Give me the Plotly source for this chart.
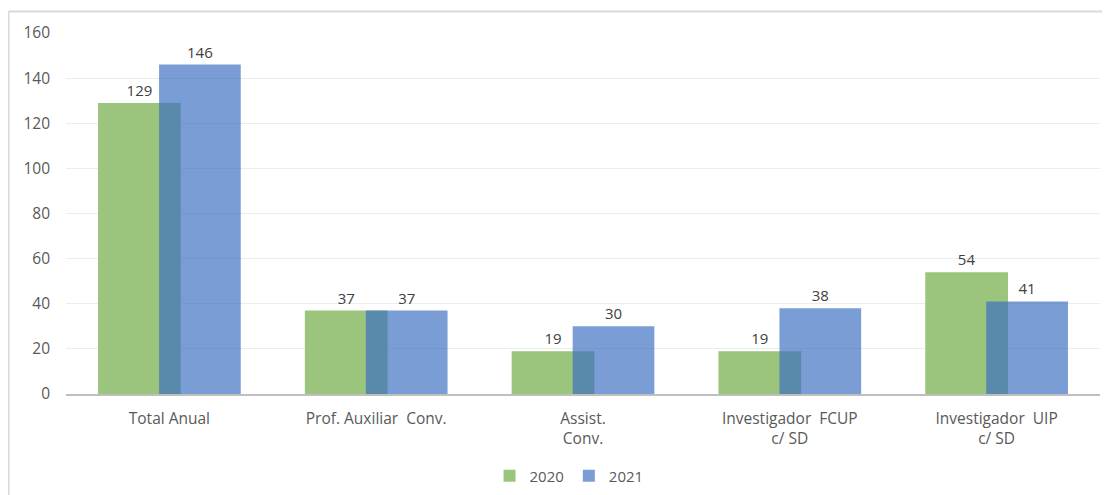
import plotly.graph_objects as go

categories = ["Total Anual", "Prof. Auxiliar  Conv.", "Assist.<br>Conv.",
              "Investigador  FCUP<br>c/ SD", "Investigador  UIP<br>c/ SD"]
values_2020 = [129, 37, 19, 19, 54]
values_2021 = [146, 37, 30, 38, 41]
y_ticks = [0, 20, 40, 60, 80, 100, 120, 140, 160]

FONT = "Open Sans"
fig = go.Figure()
fig.add_trace(go.Bar(
    x=categories, y=values_2020, name="2020",
    marker=dict(color="rgb(155,196,125)", line=dict(width=0)),
    width=0.4, offset=-0.345,
    text=values_2020, textposition="outside",
    textfont=dict(family=FONT, size=15, color="#404040"),
    cliponaxis=False,
))
fig.add_trace(go.Bar(
    x=categories, y=values_2021, name="2021",
    marker=dict(color="rgba(58,109,194,0.67)", line=dict(width=0)),
    width=0.395, offset=-0.05,
    text=values_2021, textposition="outside",
    textfont=dict(family=FONT, size=15, color="#404040"),
    cliponaxis=False,
))

fig.update_layout(
    barmode="overlay",
    width=1102, height=487,
    margin=dict(l=58, r=10, t=25, b=101, autoexpand=False),
    paper_bgcolor="white", plot_bgcolor="white",
    font=dict(family=FONT, size=14, color="#595959"),
    showlegend=True,
    legend=dict(orientation="h", x=0.4865, xanchor="center", yref="container", y=0.005, yanchor="bottom",
                font=dict(family=FONT, size=15, color="#595959"),
                itemwidth=30, traceorder="normal"),
    xaxis=dict(showgrid=False, showline=True, linecolor="#bfbfbf", linewidth=2, automargin=False,
               ticks="", tickfont=dict(family=FONT, size=15.5, color="#595959"), ticklabelstandoff=9),
    yaxis=dict(range=[0, 160], tickvals=y_ticks, showgrid=True, gridcolor="#ececec", automargin=False,
               gridwidth=1, zeroline=False, showline=False, ticks="",
               tickfont=dict(family=FONT, size=15.5, color="#595959"), ticklabelstandoff=15),
    shapes=[
        dict(type="line", xref="paper", yref="paper", x0=-0.0556, x1=1.02, y0=1.0596, y1=1.0596,
             line=dict(color="#d9d9d9", width=2)),
        dict(type="line", xref="paper", yref="paper", x0=-0.0556, x1=-0.0556, y0=1.0596, y1=-0.3,
             line=dict(color="#d9d9d9", width=2)),
    ],
)

fig.write_html("out.html")
